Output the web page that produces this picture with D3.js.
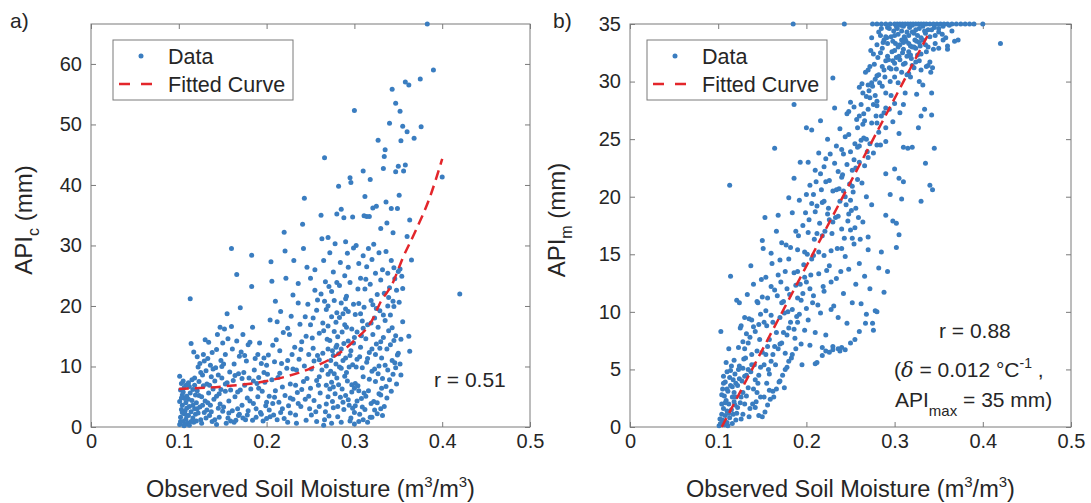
<!DOCTYPE html>
<html>
<head>
<meta charset="utf-8">
<script src="https://cdn.jsdelivr.net/npm/d3@7"></script>
<style>
  body { margin: 0; background: #fff; }
  text { font-family: "Liberation Sans", Arial, Helvetica, sans-serif; fill: #262626; }
</style>
</head>
<body>
<svg id="chart" width="1091" height="503"></svg>
<script>
// tick values
const xTicks = [0, 0.1, 0.2, 0.3, 0.4, 0.5]
const yTicksA = [0, 10, 20, 30, 40, 50, 60]
const yTicksB = [0, 5, 10, 15, 20, 25, 30, 35]

// panel a) observed soil moisture vs API_c
const pointsA = [
  [0.101, 0.4], [0.102, 1.6], [0.103, 2.9], [0.101, 4.2], [0.104, 5.3], [0.102, 6.1], [0.101, 8.4], [0.105, 0.9], [0.106, 2.2], [0.104, 3.6], [0.107, 4.7], [0.105, 5.8], [0.108, 6.9], [0.106, 0.2], [0.108, 1.3], [0.109, 3.1], [0.107, 2.6], [0.109, 5.1], [0.103, 7.2], [0.11, 0.7], [0.108, 4.0], [0.106, 6.5],
  [0.111, 1.9], [0.112, 3.4], [0.113, 5.6], [0.111, 7.3], [0.113, 21.2], [0.112, 0.3], [0.114, 2.5], [0.115, 4.4], [0.116, 6.2], [0.114, 13.8], [0.117, 0.8], [0.118, 3.0], [0.116, 1.5], [0.119, 5.3], [0.115, 7.8], [0.118, 6.9], [0.119, 2.1], [0.117, 12.4], [0.12, 4.0],
  [0.121, 11.6], [0.122, 9.9], [0.123, 7.5], [0.121, 6.0], [0.124, 3.3], [0.125, 1.2], [0.126, 5.0], [0.127, 8.6], [0.128, 12.0], [0.124, 10.5], [0.129, 2.4], [0.126, 0.6], [0.128, 6.8], [0.13, 14.4], [0.13, 4.3], [0.122, 2.3],
  [0.131, 9.3], [0.132, 7.1], [0.133, 11.3], [0.134, 5.6], [0.135, 1.9], [0.136, 3.6], [0.137, 8.3], [0.138, 12.3], [0.139, 6.3], [0.134, 14.0], [0.136, 10.2], [0.138, 0.9], [0.14, 4.6], [0.132, 2.8],
  [0.141, 7.6], [0.142, 9.8], [0.143, 12.8], [0.144, 15.3], [0.145, 3.1], [0.146, 5.5], [0.147, 16.5], [0.148, 11.0], [0.149, 8.1], [0.143, 0.4], [0.146, 1.6], [0.15, 13.9], [0.148, 6.2], [0.15, 2.6],
  [0.151, 10.4], [0.152, 16.2], [0.153, 12.0], [0.154, 0.6], [0.155, 18.7], [0.155, 7.3], [0.156, 14.6], [0.157, 4.3], [0.158, 9.1], [0.159, 1.0], [0.16, 29.5], [0.16, 16.6], [0.157, 2.3], [0.153, 5.9],
  [0.161, 12.9], [0.162, 7.7], [0.163, 10.4], [0.164, 5.0], [0.165, 1.1], [0.166, 25.2], [0.166, 14.2], [0.167, 3.0], [0.168, 8.8], [0.169, 11.7], [0.17, 19.7], [0.17, 6.1], [0.163, 0.8], [0.168, 1.9],
  [0.171, 12.4], [0.172, 3.6], [0.173, 15.3], [0.174, 9.0], [0.175, 6.9], [0.176, 1.2], [0.177, 10.9], [0.178, 4.8], [0.179, 13.6], [0.18, 8.1], [0.173, 1.5], [0.179, 2.7],
  [0.181, 14.0], [0.183, 28.4], [0.183, 23.2], [0.184, 16.5], [0.182, 6.3], [0.185, 3.9], [0.186, 9.4], [0.187, 11.3], [0.188, 1.6], [0.189, 7.2], [0.19, 5.0], [0.184, 1.1], [0.19, 12.0],
  [0.191, 8.2], [0.192, 13.9], [0.193, 2.4], [0.194, 10.5], [0.195, 5.9], [0.196, 1.0], [0.197, 11.4], [0.198, 7.4], [0.199, 3.5], [0.2, 10.2], [0.2, 1.4],
  [0.201, 8.7], [0.202, 11.9], [0.203, 5.1], [0.204, 17.7], [0.205, 27.3], [0.206, 24.1], [0.207, 13.5], [0.208, 2.0], [0.209, 10.8], [0.21, 6.0], [0.21, 20.8], [0.204, 1.7], [0.207, 3.9],
  [0.211, 14.4], [0.212, 17.4], [0.213, 8.2], [0.214, 4.1], [0.215, 12.6], [0.216, 2.4], [0.217, 10.5], [0.218, 6.6], [0.219, 15.6], [0.22, 32.2], [0.22, 1.4], [0.216, 19.1],
  [0.221, 29.1], [0.222, 24.6], [0.223, 9.7], [0.224, 16.3], [0.225, 3.5], [0.226, 15.3], [0.227, 7.1], [0.228, 18.3], [0.229, 12.0], [0.23, 4.6], [0.23, 21.8], [0.224, 0.8], [0.227, 2.3],
  [0.231, 27.5], [0.232, 13.2], [0.233, 2.0], [0.234, 9.4], [0.235, 5.7], [0.236, 23.7], [0.236, 20.5], [0.237, 11.2], [0.238, 17.0], [0.239, 3.4], [0.24, 14.1], [0.24, 6.2], [0.234, 0.6],
  [0.241, 33.5], [0.242, 29.5], [0.243, 37.8], [0.243, 10.1], [0.244, 18.2], [0.245, 1.1], [0.246, 26.4], [0.246, 8.0], [0.247, 20.3], [0.248, 12.0], [0.249, 3.0], [0.25, 24.6], [0.25, 16.9], [0.25, 6.4], [0.244, 4.6],
  [0.251, 9.6], [0.252, 14.7], [0.253, 13.0], [0.254, 4.4], [0.255, 26.0], [0.255, 22.6], [0.256, 2.5], [0.257, 19.3], [0.257, 0.9], [0.258, 11.8], [0.259, 6.9], [0.26, 15.5], [0.26, 8.3], [0.253, 18.0], [0.258, 21.0],
  [0.261, 5.6], [0.262, 22.0], [0.262, 35.0], [0.263, 31.1], [0.264, 12.2], [0.265, 27.5], [0.265, 0.3], [0.266, 44.5], [0.266, 1.2], [0.267, 24.0], [0.267, 2.5], [0.268, 19.4], [0.268, 3.8], [0.268, 10.1], [0.269, 14.5], [0.27, 31.3], [0.27, 16.7], [0.27, 5.0], [0.27, 8.7], [0.27, 12.9], [0.264, 17.2], [0.266, 20.8],
  [0.271, 23.2], [0.272, 28.8], [0.272, 14.3], [0.272, 6.3], [0.273, 9.2], [0.274, 22.4], [0.274, 18.2], [0.274, 7.4], [0.274, 0.6], [0.275, 12.6], [0.276, 25.6], [0.276, 11.8], [0.276, 3.2], [0.276, 6.6], [0.277, 20.9], [0.277, 15.8], [0.278, 30.3], [0.278, 5.5], [0.279, 17.3], [0.279, 10.4], [0.28, 35.2], [0.28, 8.1], [0.28, 13.5], [0.28, 23.9],
  [0.281, 14.9], [0.281, 1.7], [0.282, 39.8], [0.282, 12.1], [0.282, 7.0], [0.283, 23.4], [0.283, 18.1], [0.284, 4.9], [0.284, 27.2], [0.285, 36.0], [0.285, 20.5], [0.285, 9.7], [0.285, 0.8], [0.286, 6.3], [0.286, 15.7], [0.287, 18.7], [0.287, 11.0], [0.288, 34.6], [0.288, 13.8], [0.288, 2.9], [0.289, 25.0], [0.289, 8.4], [0.29, 30.6], [0.29, 11.4], [0.29, 5.2], [0.29, 21.2],
  [0.291, 21.6], [0.291, 16.5], [0.292, 28.7], [0.292, 7.6], [0.293, 19.1], [0.293, 14.2], [0.294, 3.6], [0.294, 9.9], [0.295, 41.2], [0.295, 23.9], [0.295, 1.0], [0.296, 40.4], [0.296, 12.6], [0.296, 1.5], [0.297, 16.2], [0.297, 5.8], [0.298, 34.7], [0.298, 10.3], [0.298, 3.1], [0.299, 29.6], [0.299, 20.3], [0.3, 52.3], [0.3, 2.4], [0.3, 0.5], [0.3, 14.8], [0.293, 26.4],
  [0.301, 18.6], [0.302, 30.0], [0.302, 9.9], [0.303, 15.7], [0.303, 4.3], [0.304, 6.8], [0.305, 27.0], [0.305, 20.4], [0.305, 0.9], [0.306, 11.6], [0.306, 2.1], [0.307, 24.6], [0.307, 13.2], [0.308, 4.7], [0.309, 17.5], [0.309, 3.3], [0.31, 42.3], [0.31, 28.3], [0.31, 8.3], [0.31, 1.2], [0.304, 22.8], [0.308, 15.1], [0.301, 7.2],
  [0.311, 34.9], [0.311, 19.8], [0.312, 38.1], [0.312, 22.8], [0.312, 2.9], [0.313, 14.6], [0.314, 34.8], [0.314, 26.5], [0.314, 10.7], [0.315, 16.9], [0.315, 0.8], [0.316, 29.5], [0.316, 6.0], [0.317, 34.8], [0.317, 12.3], [0.318, 40.9], [0.318, 23.6], [0.318, 1.6], [0.319, 20.9], [0.32, 27.7], [0.32, 9.2], [0.32, 1.6], [0.313, 5.1], [0.319, 17.2],
  [0.321, 36.2], [0.321, 15.3], [0.322, 30.2], [0.322, 4.2], [0.323, 18.0], [0.323, 2.8], [0.324, 25.4], [0.324, 7.5], [0.325, 36.5], [0.325, 13.7], [0.326, 21.9], [0.326, 4.0], [0.327, 47.4], [0.327, 16.5], [0.328, 28.8], [0.328, 10.1], [0.328, 5.5], [0.329, 19.2], [0.33, 32.8], [0.33, 24.3], [0.33, 5.3], [0.33, 3.0], [0.326, 2.2], [0.324, 12.0],
  [0.331, 11.4], [0.332, 26.0], [0.332, 8.0], [0.332, 1.9], [0.333, 42.7], [0.333, 14.8], [0.334, 44.7], [0.334, 22.1], [0.334, 3.4], [0.335, 45.8], [0.335, 17.6], [0.336, 37.2], [0.336, 29.0], [0.336, 6.7], [0.337, 33.7], [0.337, 12.9], [0.338, 25.4], [0.338, 9.4], [0.339, 15.9], [0.34, 50.2], [0.34, 23.0], [0.34, 7.8], [0.338, 20.0],
  [0.341, 18.5], [0.342, 36.1], [0.342, 27.5], [0.342, 5.9], [0.343, 55.8], [0.343, 11.0], [0.344, 32.1], [0.344, 20.8], [0.344, 8.7], [0.345, 14.3], [0.346, 24.5], [0.346, 10.6], [0.347, 53.5], [0.347, 42.2], [0.347, 9.8], [0.348, 22.6], [0.348, 7.1], [0.349, 36.1], [0.35, 43.1], [0.35, 25.7], [0.35, 12.2], [0.345, 26.3],
  [0.351, 38.3], [0.352, 52.2], [0.352, 26.1], [0.352, 10.4], [0.353, 47.3], [0.353, 8.6], [0.354, 24.9], [0.355, 49.7], [0.355, 17.4], [0.356, 42.3], [0.358, 57.0], [0.358, 43.3], [0.36, 48.8], [0.36, 31.5],
  [0.362, 56.5], [0.362, 15.0], [0.363, 34.2], [0.363, 12.5], [0.365, 27.6], [0.368, 47.7], [0.375, 57.5], [0.376, 49.6], [0.383, 66.6], [0.39, 59.0], [0.4, 41.3], [0.42, 22.0],
  // denser parts of the cloud
  [0.102, 0.9], [0.104, 2.4], [0.103, 4.8], [0.105, 7.6], [0.107, 0.4], [0.109, 1.9], [0.111, 4.6], [0.112, 6.7], [0.114, 0.9], [0.116, 3.6], [0.118, 8.1], [0.12, 1.0], [0.121, 3.0], [0.123, 5.2], [0.125, 9.0], [0.127, 3.6], [0.129, 10.9], [0.131, 1.5], [0.133, 4.0], [0.135, 6.9],
  [0.137, 2.5], [0.139, 9.6], [0.141, 1.2], [0.143, 5.1], [0.145, 8.6], [0.147, 3.8], [0.149, 10.0], [0.151, 3.3], [0.153, 7.1], [0.156, 1.5], [0.159, 6.1], [0.161, 2.7], [0.164, 8.5], [0.167, 5.8], [0.169, 2.1], [0.172, 8.0], [0.175, 11.8], [0.178, 2.0], [0.181, 4.3], [0.185, 7.6],
  [0.188, 3.0], [0.191, 6.4], [0.194, 2.1], [0.197, 9.0], [0.2, 4.1], [0.203, 2.8], [0.206, 7.8], [0.209, 4.9], [0.212, 1.2], [0.215, 8.9], [0.218, 3.0], [0.221, 5.2], [0.224, 11.0], [0.227, 4.8], [0.23, 9.6], [0.233, 6.9], [0.236, 3.9], [0.239, 12.8], [0.242, 7.5], [0.245, 15.0],
  [0.248, 5.1], [0.251, 2.0], [0.254, 10.9], [0.257, 7.7], [0.26, 3.4], [0.263, 9.4], [0.265, 15.9], [0.268, 6.9], [0.271, 1.8], [0.273, 11.0], [0.275, 4.2], [0.277, 8.8], [0.279, 13.2], [0.281, 3.4], [0.283, 9.9], [0.285, 12.9], [0.287, 4.1], [0.289, 16.9], [0.291, 9.0], [0.293, 4.5],
  [0.295, 11.8], [0.297, 7.0], [0.299, 13.9], [0.301, 3.5], [0.303, 11.2], [0.305, 6.0], [0.307, 18.7], [0.309, 9.8], [0.311, 5.6], [0.313, 24.4], [0.315, 11.3], [0.317, 7.9], [0.319, 3.9], [0.321, 20.2], [0.323, 9.6], [0.325, 19.6], [0.327, 8.8], [0.329, 13.0], [0.331, 6.4], [0.333, 18.5],
  [0.335, 10.2], [0.337, 4.8], [0.339, 21.4], [0.341, 13.6], [0.343, 16.4], [0.345, 19.9], [0.347, 15.1], [0.349, 11.9], [0.351, 20.6], [0.353, 14.5], [0.355, 22.9], [0.3, 6.4], [0.32, 12.9], [0.31, 16.3], [0.29, 19.5], [0.28, 18.9], [0.27, 20.0], [0.26, 11.1], [0.33, 14.1]
]
const curveA = [
  [0.1, 6.3], [0.15, 6.7], [0.2, 7.6], [0.25, 9.7], [0.28, 11.9], [0.3, 14.3], [0.32, 17.6],
  [0.33, 20.7], [0.343, 23.6], [0.355, 27.9], [0.37, 32.5], [0.386, 38.0], [0.4, 44.3]
]

// panel b) observed soil moisture vs API_m
const pointsB = [
  [0.101, 0.1], [0.103, 0.3], [0.104, 1.1], [0.103, 8.3], [0.104, 2.0], [0.105, 3.3], [0.105, 0.6], [0.106, 4.4], [0.106, 1.6], [0.107, 2.7], [0.107, 0.2], [0.108, 3.9], [0.108, 1.0], [0.109, 5.6], [0.109, 2.3], [0.11, 0.4], [0.11, 4.8], [0.11, 1.4],
  [0.111, 3.1], [0.111, 0.1], [0.112, 6.8], [0.112, 2.0], [0.113, 21.0], [0.113, 4.3], [0.113, 0.8], [0.114, 13.1], [0.114, 3.6], [0.115, 1.5], [0.115, 5.3], [0.116, 2.6], [0.116, 0.3], [0.117, 4.1], [0.117, 1.1], [0.118, 5.8], [0.118, 3.0], [0.119, 1.9], [0.119, 4.6], [0.12, 2.6], [0.12, 0.6],
  [0.121, 11.0], [0.121, 1.2], [0.122, 3.6], [0.123, 6.9], [0.123, 5.0], [0.124, 10.8], [0.124, 5.3], [0.125, 2.1], [0.125, 8.6], [0.126, 0.7], [0.126, 8.8], [0.127, 4.0], [0.128, 7.4], [0.128, 3.0], [0.128, 1.1], [0.129, 5.9], [0.13, 9.5], [0.13, 4.4], [0.13, 2.0],
  [0.131, 6.0], [0.132, 2.7], [0.132, 8.1], [0.133, 11.5], [0.134, 5.0], [0.134, 3.4], [0.135, 0.9], [0.135, 9.4], [0.136, 7.8], [0.137, 14.0], [0.137, 4.8], [0.138, 9.3], [0.138, 6.3], [0.139, 2.0], [0.14, 12.4], [0.14, 3.3],
  [0.141, 5.4], [0.142, 8.3], [0.142, 1.7], [0.143, 2.2], [0.144, 6.6], [0.144, 10.9], [0.145, 10.8], [0.145, 3.8], [0.146, 4.5], [0.146, 1.0], [0.147, 7.6], [0.148, 9.8], [0.148, 5.2], [0.149, 12.8], [0.15, 16.2], [0.15, 0.9], [0.15, 6.5],
  [0.151, 15.5], [0.152, 2.6], [0.152, 9.1], [0.153, 18.2], [0.153, 1.3], [0.154, 13.0], [0.154, 6.3], [0.155, 3.8], [0.155, 8.8], [0.156, 11.2], [0.156, 1.9], [0.157, 5.0], [0.158, 7.6], [0.158, 4.6], [0.159, 2.4], [0.16, 5.7], [0.16, 12.2], [0.16, 9.7],
  [0.161, 14.2], [0.162, 9.1], [0.162, 3.1], [0.163, 2.6], [0.164, 24.2], [0.164, 7.0], [0.165, 5.4], [0.166, 17.0], [0.166, 3.3], [0.167, 11.4], [0.168, 18.4], [0.168, 6.8], [0.169, 3.9], [0.17, 14.5], [0.17, 4.0], [0.17, 9.5],
  [0.171, 12.6], [0.172, 10.8], [0.172, 7.3], [0.173, 4.5], [0.174, 8.2], [0.175, 3.4], [0.175, 9.9], [0.176, 6.4], [0.176, 5.0], [0.177, 15.8], [0.178, 12.0], [0.178, 5.2], [0.179, 10.0], [0.18, 19.9], [0.18, 8.6], [0.18, 5.7],
  [0.181, 11.5], [0.182, 15.6], [0.183, 6.0], [0.184, 10.2], [0.184, 6.3], [0.185, 35.0], [0.186, 21.6], [0.186, 28.0], [0.186, 13.4], [0.187, 7.7], [0.188, 17.0], [0.188, 6.8], [0.189, 9.6], [0.19, 13.5], [0.19, 9.1], [0.19, 11.2],
  [0.191, 16.6], [0.192, 9.8], [0.193, 23.0], [0.193, 12.4], [0.194, 7.2], [0.195, 5.4], [0.196, 11.6], [0.197, 14.1], [0.198, 15.2], [0.198, 8.4], [0.199, 18.6], [0.2, 26.0], [0.2, 12.6], [0.2, 10.3],
  [0.201, 15.0], [0.202, 23.0], [0.202, 9.3], [0.203, 18.0], [0.204, 21.0], [0.204, 7.1], [0.205, 13.2], [0.206, 25.8], [0.206, 14.6], [0.207, 10.8], [0.208, 20.2], [0.208, 11.4], [0.209, 16.3], [0.21, 18.7], [0.21, 8.2], [0.21, 5.5],
  [0.211, 21.3], [0.212, 16.8], [0.212, 5.6], [0.213, 10.6], [0.214, 23.8], [0.214, 13.3], [0.215, 17.7], [0.216, 26.6], [0.216, 9.9], [0.217, 20.6], [0.218, 19.5], [0.218, 6.9], [0.218, 6.2], [0.219, 12.2], [0.22, 14.9], [0.22, 11.8], [0.22, 22.6],
  [0.221, 17.0], [0.222, 21.3], [0.222, 8.0], [0.222, 6.6], [0.223, 13.6], [0.224, 25.0], [0.225, 19.0], [0.226, 18.0], [0.226, 14.0], [0.226, 6.5], [0.227, 23.7], [0.228, 12.6], [0.228, 10.2], [0.229, 16.8], [0.23, 30.3], [0.23, 7.0], [0.23, 6.7], [0.23, 20.5],
  [0.231, 10.5], [0.232, 27.7], [0.233, 18.2], [0.234, 24.4], [0.234, 12.9], [0.235, 15.5], [0.236, 22.2], [0.236, 9.5], [0.236, 6.8], [0.237, 20.7], [0.238, 19.6], [0.238, 6.6], [0.239, 13.5], [0.24, 17.2], [0.24, 15.5], [0.24, 6.9], [0.24, 24.1],
  [0.241, 21.9], [0.242, 20.5], [0.242, 11.6], [0.243, 35.0], [0.243, 16.4], [0.244, 14.8], [0.244, 25.2], [0.244, 6.7], [0.245, 19.3], [0.246, 27.2], [0.246, 9.0], [0.247, 17.9], [0.248, 25.4], [0.248, 18.5], [0.248, 13.7], [0.249, 21.1], [0.25, 19.7], [0.25, 7.3], [0.25, 28.2], [0.25, 17.1],
  [0.251, 18.8], [0.252, 22.3], [0.252, 16.4], [0.252, 10.8], [0.253, 20.4], [0.254, 23.2], [0.254, 15.9], [0.255, 17.3], [0.255, 24.6], [0.255, 7.6], [0.256, 19.0], [0.256, 12.4], [0.257, 26.7], [0.258, 26.0], [0.258, 21.5], [0.259, 18.2], [0.26, 29.5], [0.26, 24.4], [0.26, 23.0], [0.26, 14.2], [0.26, 8.3],
  [0.261, 16.3], [0.262, 28.0], [0.262, 10.7], [0.263, 29.8], [0.263, 21.2], [0.264, 26.3], [0.264, 17.8], [0.265, 27.2], [0.265, 25.1], [0.266, 22.7], [0.266, 13.1], [0.267, 30.8], [0.267, 9.0], [0.268, 25.0], [0.268, 20.0], [0.268, 9.8], [0.269, 23.9], [0.27, 31.0], [0.27, 16.5], [0.27, 15.4], [0.27, 23.4], [0.27, 27.6],
  [0.271, 29.2], [0.272, 28.6], [0.272, 24.6], [0.272, 12.0], [0.273, 32.7], [0.274, 26.4], [0.274, 19.3], [0.274, 33.8], [0.275, 29.6], [0.275, 35.0], [0.275, 9.0], [0.276, 23.8], [0.276, 28.0], [0.276, 8.4], [0.277, 31.5], [0.278, 30.2], [0.278, 10.1], [0.279, 27.0], [0.28, 27.9], [0.28, 35.0], [0.28, 30.5], [0.28, 28.3], [0.28, 26.4], [0.28, 24.5], [0.28, 10.0],
  [0.281, 32.1], [0.282, 25.6], [0.282, 34.3], [0.282, 13.8], [0.283, 29.9], [0.284, 32.5], [0.284, 24.5], [0.285, 27.0], [0.285, 35.0], [0.285, 34.6], [0.285, 15.2], [0.286, 29.6], [0.286, 31.3], [0.287, 33.4], [0.288, 27.3], [0.288, 33.6], [0.288, 11.7], [0.289, 30.4], [0.29, 24.8], [0.29, 35.0], [0.29, 31.8], [0.29, 29.0], [0.29, 26.0], [0.29, 22.0], [0.29, 27.7], [0.29, 18.4],
  [0.291, 33.8], [0.292, 33.3], [0.292, 34.7], [0.292, 13.5], [0.293, 31.9], [0.294, 31.2], [0.294, 27.6], [0.295, 35.0], [0.295, 30.0], [0.295, 20.2], [0.296, 28.8], [0.296, 33.9], [0.297, 32.6], [0.298, 26.5], [0.298, 31.8], [0.298, 17.9], [0.299, 34.4], [0.3, 34.0], [0.3, 35.0], [0.3, 32.7], [0.3, 30.4], [0.3, 28.1], [0.3, 22.4],
  [0.301, 33.3], [0.302, 32.1], [0.302, 31.1], [0.302, 17.7], [0.302, 15.6], [0.303, 35.0], [0.303, 34.6], [0.304, 29.9], [0.304, 34.1], [0.305, 32.2], [0.305, 25.5], [0.305, 21.6], [0.305, 16.7], [0.306, 27.3], [0.306, 33.2], [0.306, 35.0], [0.307, 34.9], [0.308, 33.6], [0.308, 30.8], [0.308, 19.8], [0.309, 35.0], [0.309, 32.5], [0.31, 31.5], [0.31, 34.8], [0.31, 32.8], [0.31, 28.0], [0.31, 24.3], [0.31, 21.3],
  [0.311, 33.9], [0.312, 35.0], [0.312, 29.0], [0.312, 31.6], [0.313, 33.5], [0.314, 34.3], [0.314, 32.2], [0.315, 35.0], [0.315, 24.2], [0.316, 32.6], [0.316, 30.7], [0.316, 34.0], [0.317, 34.7], [0.318, 30.4], [0.318, 33.1], [0.318, 35.0], [0.319, 32.0], [0.32, 33.0], [0.32, 34.9], [0.32, 31.4], [0.32, 24.3],
  [0.321, 35.0], [0.322, 31.2], [0.322, 34.2], [0.323, 33.6], [0.324, 34.5], [0.324, 32.9], [0.324, 35.0], [0.325, 33.5], [0.325, 28.9], [0.326, 32.3], [0.327, 35.0], [0.327, 26.0], [0.328, 30.0], [0.328, 34.6], [0.328, 31.8], [0.329, 33.1], [0.33, 33.8], [0.33, 35.0], [0.33, 31.0], [0.33, 27.0], [0.33, 19.6],
  [0.332, 29.7], [0.332, 34.8], [0.333, 35.0], [0.334, 27.6], [0.335, 33.2], [0.335, 22.9], [0.335, 34.2], [0.336, 31.3], [0.336, 35.0], [0.338, 33.0], [0.338, 34.5], [0.34, 31.7], [0.34, 35.0], [0.34, 21.0],
  [0.341, 30.8], [0.342, 29.0], [0.342, 27.1], [0.343, 20.6], [0.343, 31.2], [0.344, 32.8], [0.344, 35.0], [0.345, 24.2], [0.345, 34.7], [0.346, 34.0], [0.348, 35.0], [0.35, 32.9], [0.35, 34.3],
  [0.352, 35.0], [0.355, 33.6], [0.355, 34.8], [0.356, 35.0], [0.36, 33.1], [0.36, 35.0], [0.36, 32.8], [0.365, 34.4], [0.365, 35.0], [0.368, 33.5], [0.37, 35.0], [0.372, 33.6], [0.375, 35.0], [0.38, 35.0], [0.385, 35.0], [0.39, 35.0], [0.4, 35.0], [0.42, 33.3],
  // denser parts of the band
  [0.102, 0.7], [0.104, 2.8], [0.106, 3.8], [0.108, 2.1], [0.11, 3.3], [0.112, 1.2], [0.114, 4.9], [0.116, 3.5], [0.118, 2.2], [0.12, 3.8], [0.122, 1.7], [0.124, 4.2], [0.126, 2.6], [0.128, 5.1], [0.13, 6.8], [0.132, 4.5], [0.134, 7.3], [0.136, 1.6], [0.138, 5.4], [0.14, 8.7],
  [0.142, 4.1], [0.144, 3.0], [0.146, 8.9], [0.148, 2.6], [0.15, 11.3], [0.152, 5.4], [0.154, 10.1], [0.156, 7.0], [0.158, 3.2], [0.16, 15.1], [0.162, 6.3], [0.164, 11.9], [0.166, 8.2], [0.168, 13.2], [0.17, 7.2], [0.172, 16.0], [0.174, 10.9], [0.176, 13.5], [0.178, 8.0], [0.18, 14.6],
  [0.182, 9.1], [0.184, 18.6], [0.186, 8.5], [0.188, 12.3], [0.19, 15.4], [0.192, 19.7], [0.194, 11.0], [0.196, 17.5], [0.198, 13.0], [0.2, 20.2], [0.202, 16.9], [0.204, 12.0], [0.206, 19.4], [0.208, 14.9], [0.21, 22.3], [0.212, 19.2], [0.214, 15.2], [0.216, 22.0], [0.218, 16.6], [0.22, 19.6],
  [0.222, 23.3], [0.224, 18.5], [0.226, 21.4], [0.228, 15.3], [0.23, 17.8], [0.232, 22.9], [0.234, 20.6], [0.236, 18.3], [0.238, 25.9], [0.24, 21.7], [0.242, 23.7], [0.244, 20.0], [0.246, 22.8], [0.248, 27.4], [0.25, 23.9], [0.252, 20.9], [0.254, 27.8], [0.256, 22.5], [0.258, 24.3], [0.26, 27.0],
  [0.262, 24.9], [0.264, 29.0], [0.266, 26.6], [0.268, 28.7], [0.27, 29.7], [0.272, 31.3], [0.274, 29.9], [0.276, 32.4], [0.278, 28.8], [0.28, 33.2], [0.282, 30.6], [0.284, 34.0], [0.286, 32.9], [0.288, 31.0], [0.29, 33.9], [0.292, 32.2], [0.294, 34.6], [0.296, 31.1], [0.298, 33.5], [0.3, 31.6],
  [0.302, 34.8], [0.304, 33.0], [0.306, 31.9], [0.308, 34.4], [0.31, 33.4], [0.312, 33.7], [0.314, 30.6], [0.316, 33.3], [0.318, 32.3], [0.32, 34.3], [0.322, 33.0], [0.324, 31.7], [0.326, 34.0], [0.328, 33.4], [0.33, 32.4], [0.332, 33.6], [0.334, 34.4], [0.336, 32.6], [0.338, 31.4], [0.34, 33.9],
  [0.342, 34.5], [0.346, 33.3], [0.35, 34.6], [0.354, 34.1], [0.358, 33.8], [0.362, 34.9]
]
const lineB = [[0.104, 0], [0.3375, 34.0]]

const dotColor = '#3a7dc0'
const curveColor = '#e3262b'
const boxColor = '#7a7a7a'
const plotTop = 24
const plotBottom = 427

const svg = d3.select('#chart')

/**
 * Draws one scatter panel with its axes box, legend and labels.
 *
 * @param {object} cfg The panel settings
 */
function drawPanel (cfg) {
  const g = svg.append('g')
  const x = d3.scaleLinear().domain([0, 0.5]).range([cfg.left, cfg.right])
  const y = d3.scaleLinear().domain([0, cfg.yMax]).range([plotBottom, plotTop])

  // ticks pointing inwards on all four sides, like a MATLAB box
  const axes = [
    [d3.axisBottom(x).tickValues(xTicks).tickFormat(d => d).tickPadding(7), `translate(0,${plotBottom})`],
    [d3.axisTop(x).tickValues(xTicks).tickFormat(''), `translate(0,${plotTop})`],
    [d3.axisLeft(y).tickValues(cfg.yTicks).tickPadding(cfg.yPad), `translate(${cfg.left},0)`],
    [d3.axisRight(y).tickValues(cfg.yTicks).tickFormat(''), `translate(${cfg.right},0)`]
  ]
  axes.forEach(([axis, tr]) => {
    const a = g.append('g').attr('transform', tr)
      .call(axis.tickSizeInner(-5).tickSizeOuter(0))
    a.select('.domain').remove()
    a.selectAll('line').attr('stroke', boxColor)
    a.selectAll('text').style('font-size', '20px').attr('fill', '#262626')
      .style('font-family', '"Liberation Sans", Arial, sans-serif')
  })

  g.append('rect')
    .attr('x', cfg.left).attr('y', plotTop)
    .attr('width', cfg.right - cfg.left).attr('height', plotBottom - plotTop)
    .attr('fill', 'none').attr('stroke', boxColor).attr('stroke-width', 1)

  g.append('g').selectAll('circle')
    .data(cfg.points)
    .join('circle')
    .attr('cx', d => x(d[0]))
    .attr('cy', d => y(d[1]))
    .attr('r', 2.5)
    .attr('fill', dotColor)

  const line = d3.line().x(d => x(d[0])).y(d => y(d[1])).curve(d3.curveMonotoneX)
  g.append('path')
    .attr('d', line(cfg.curve))
    .attr('fill', 'none')
    .attr('stroke', curveColor)
    .attr('stroke-width', 2.5)
    .attr('stroke-dasharray', '10,6')

  // legend
  const lg = g.append('g').attr('transform', `translate(${cfg.legendX},40)`)
  lg.append('rect').attr('width', 180).attr('height', 60)
    .attr('fill', '#fff').attr('stroke', boxColor).attr('stroke-width', 1)
  lg.append('circle').attr('cx', 28).attr('cy', 16).attr('r', 2.5).attr('fill', dotColor)
  lg.append('line').attr('x1', 6).attr('x2', 41).attr('y1', 44).attr('y2', 44)
    .attr('stroke', curveColor).attr('stroke-width', 2.5).attr('stroke-dasharray', '11,11')
  lg.append('text').attr('x', 55).attr('y', 24).style('font-size', '21.5px').text('Data')
  lg.append('text').attr('x', 55).attr('y', 52).style('font-size', '21.5px').text('Fitted Curve')

  // panel letter
  svg.append('text').attr('x', cfg.letterX).attr('y', 28).style('font-size', '21px').text(cfg.letter)

  // x label with superscripts
  const xl = svg.append('text')
    .attr('x', (cfg.left + cfg.right) / 2).attr('y', 497)
    .attr('text-anchor', 'middle').style('font-size', '23.5px')
  xl.append('tspan').text('Observed Soil Moisture (m')
  xl.append('tspan').attr('dy', -10).style('font-size', '15px').text('3')
  xl.append('tspan').attr('dy', 10).text('/m')
  xl.append('tspan').attr('dy', -10).style('font-size', '15px').text('3')
  xl.append('tspan').attr('dy', 10).text(')')

  // y label with subscript
  const yl = svg.append('text')
    .attr('transform', `translate(${cfg.yLabelX},220) rotate(-90)`)
    .attr('text-anchor', 'middle').style('font-size', '24px')
  yl.append('tspan').text('API')
  yl.append('tspan').attr('dy', 7).style('font-size', '16px').text(cfg.sub)
  yl.append('tspan').attr('dy', -7).text(' (mm)')
}

drawPanel({
  left: 91, right: 530, yMax: 66.6, yTicks: yTicksA, yPad: 9,
  points: pointsA, curve: curveA, legendX: 113, letter: 'a)', letterX: 10,
  yLabelX: 32, sub: 'c'
})
drawPanel({
  left: 630, right: 1071, yMax: 35, yTicks: yTicksB, yPad: 9,
  points: pointsB, curve: lineB, legendX: 647, letter: 'b)', letterX: 553,
  yLabelX: 565, sub: 'm'
})

// annotations
svg.append('text').attr('x', 434).attr('y', 387).style('font-size', '21px').text('r = 0.51')

svg.append('text').attr('x', 939).attr('y', 338).style('font-size', '21px').text('r = 0.88')
const t2 = svg.append('text').attr('x', 894).attr('y', 377).style('font-size', '21px')
t2.append('tspan').text('(')
t2.append('tspan').style('font-style', 'italic').style('font-family', '"DejaVu Serif", serif').text('δ')
t2.append('tspan').text(' = 0.012 °C')
t2.append('tspan').attr('dy', -9).style('font-size', '14px').text('-1')
t2.append('tspan').attr('dy', 9).text(' ,')
const t3 = svg.append('text').attr('x', 895).attr('y', 407).style('font-size', '21px')
t3.append('tspan').text('API')
t3.append('tspan').attr('dy', 9).style('font-size', '15px').text('max')
t3.append('tspan').attr('dy', -9).text(' = 35 mm)')
</script>
</body>
</html>
